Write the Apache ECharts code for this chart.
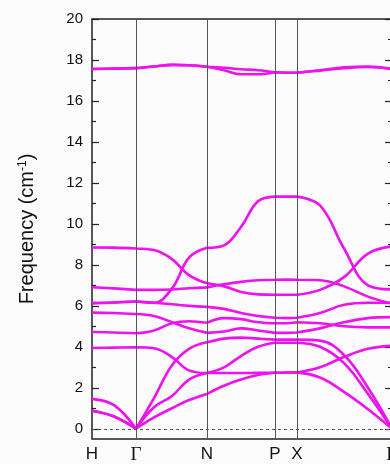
<!DOCTYPE html>
<html>
<head>
<meta charset="utf-8">
<script src="https://cdn.jsdelivr.net/npm/echarts@6.0.0/dist/echarts.min.js"></script>
<style>
  html, body { margin: 0; padding: 0; background: #fbfbfb; }
  #chart { width: 390px; height: 464px; }
</style>
</head>
<body>
<div id="chart"></div>
<script>
// positions along the k-path (sample points) and high-symmetry points
const kx = [0, 22, 44, 62, 80, 97, 115, 132, 149, 166, 183, 194, 205, 228, 252, 276, 300];
const kpointPos = [0, 44, 115, 183, 205, 300];
const kpointNames = ["H", "Γ", "N", "P", "X", "L"];

const yTicks = [0, 2, 4, 6, 8, 10, 12, 14, 16, 18, 20];
const yMinor = [1, 3, 5, 7, 9, 11, 13, 15, 17, 19];

// phonon branches, frequency at each kx sample
const top1 = [17.56, 17.58, 17.6, 17.68, 17.76, 17.74, 17.67, 17.62, 17.55, 17.5, 17.4, 17.38, 17.38, 17.5, 17.64, 17.68, 17.56];
const top2 = [17.56, 17.58, 17.6, 17.68, 17.76, 17.74, 17.67, 17.5, 17.3, 17.3, 17.4, 17.38, 17.38, 17.48, 17.6, 17.66, 17.56];
const bandA = [8.85, 8.84, 8.8, 8.72, 8.28, 7.5, 7.1, 6.95, 6.68, 6.56, 6.54, 6.54, 6.54, 6.78, 7.4, 8.55, 8.9];
const bandB = [6.13, 6.16, 6.21, 6.15, 6.85, 8.35, 8.83, 8.95, 9.85, 11.1, 11.33, 11.33, 11.33, 10.9, 8.8, 7.0, 6.8];
const bandC = [6.91, 6.85, 6.78, 6.78, 6.8, 6.86, 6.9, 7.05, 7.17, 7.25, 7.27, 7.28, 7.27, 7.25, 6.95, 6.45, 6.1];
const bandD = [6.13, 6.16, 6.21, 6.15, 6.08, 6.0, 5.95, 5.85, 5.65, 5.5, 5.42, 5.4, 5.42, 5.65, 6.05, 6.15, 6.15];
const bandE = [5.67, 5.65, 5.6, 5.5, 5.2, 4.9, 4.68, 4.75, 4.9, 4.8, 4.68, 4.68, 4.7, 4.9, 5.2, 5.4, 5.45];
const bandF = [4.72, 4.7, 4.66, 4.8, 5.15, 5.25, 5.17, 5.4, 5.35, 5.2, 5.15, 5.15, 5.2, 5.15, 5.0, 4.95, 4.95];
const bandG = [3.94, 3.96, 3.98, 3.93, 3.5, 2.85, 2.72, 3.0, 3.55, 4.0, 4.2, 4.2, 4.2, 4.0, 3.2, 1.7, 0];
const acou3 = [1.46, 1.15, 0, 1.5, 3.1, 3.9, 4.22, 4.4, 4.45, 4.4, 4.35, 4.35, 4.35, 4.3, 3.6, 2.0, 0];
const acou2 = [0.88, 0.6, 0, 1.05, 1.6, 2.4, 2.72, 2.72, 2.72, 2.73, 2.73, 2.74, 2.75, 3.0, 3.5, 3.9, 4.05];
const acou1 = [0.88, 0.6, 0, 0.55, 1.0, 1.4, 1.7, 2.1, 2.4, 2.62, 2.73, 2.74, 2.75, 2.5, 1.8, 0.95, 0];

const bands = [top1, top2, bandA, bandB, bandC, bandD, bandE, bandF, bandG, acou3, acou2, acou1];

// break each branch at the high-symmetry points so kinks stay sharp
function toSegments(values) {
  const out = [];
  values.forEach((v, i) => {
    out.push([kx[i], v]);
    if (i > 0 && i < kx.length - 1 && kpointPos.includes(kx[i])) {
      out.push([kx[i], "-"]);
      out.push([kx[i], v]);
    }
  });
  return out;
}

const chart = echarts.init(document.getElementById("chart"), null, { renderer: "canvas" });

const tickAxis = (position, values, length) => ({
  type: "value",
  min: -0.5,
  max: 20,
  position: position,
  axisLine: { show: false },
  splitLine: { show: false },
  axisTick: { inside: true, length: length, customValues: values, lineStyle: { color: "#222", width: 1.2 } },
  axisLabel: { show: false },
});

const series = bands.map((b) => ({
  type: "line",
  data: toSegments(b),
  symbol: "none",
  smooth: 0.4,
  connectNulls: false,
  silent: true,
  lineStyle: { color: "#ee12ee", width: 2.6 },
}));

series[0].markLine = {
  silent: true,
  symbol: ["none", "none"],
  label: { show: false },
  data: kpointPos.slice(1, 5).map((x) => ({ xAxis: x, lineStyle: { color: "#555", width: 1, type: "solid" } }))
    .concat([{ yAxis: 0, lineStyle: { color: "#555", width: 1, type: [3, 3] } }]),
};

chart.setOption({
  animation: false,
  backgroundColor: "#fbfbfb",
  textStyle: { fontFamily: "Liberation Sans, Arial, sans-serif" },
  grid: {
    left: 92,
    right: -2,
    top: 19,
    bottom: 25,
    outerBoundsMode: "none",
    show: true,
    borderColor: "#222",
    borderWidth: 1.5,
    backgroundColor: "transparent",
  },
  xAxis: {
    type: "value",
    min: 0,
    max: 300,
    axisLine: { show: false },
    axisTick: { show: false },
    splitLine: { show: false },
    axisLabel: {
      customValues: kpointPos,
      fontSize: 17,
      color: "#111",
      margin: 7,
      formatter: (v) => {
        const n = kpointNames[kpointPos.indexOf(v)];
        return n === "Γ" || n === "L" ? "{g|" + n + "}" : n;
      },
      rich: { g: { fontFamily: "Liberation Serif", fontSize: 19, color: "#111" } },
    },
  },
  yAxis: [
    {
      type: "value",
      min: -0.5,
      max: 20,
      position: "left",
      axisLine: { show: false },
      splitLine: { show: false },
      axisTick: { inside: true, length: 7, customValues: yTicks, lineStyle: { color: "#222", width: 1.2 } },
      axisLabel: { customValues: yTicks, fontSize: 15, color: "#111", margin: 9 },
      name: "Frequency (cm{sup|-1})",
      nameLocation: "middle",
      nameRotate: 90,
      nameGap: 55,
      nameTextStyle: {
        fontSize: 20,
        color: "#111",
        rich: { sup: { fontSize: 12, verticalAlign: "top", color: "#111" } },
      },
    },
    tickAxis("left", yMinor, 4),
    tickAxis("right", yTicks, 7),
    tickAxis("right", yMinor, 4),
  ],
  series: series,
});
</script>
</body>
</html>
